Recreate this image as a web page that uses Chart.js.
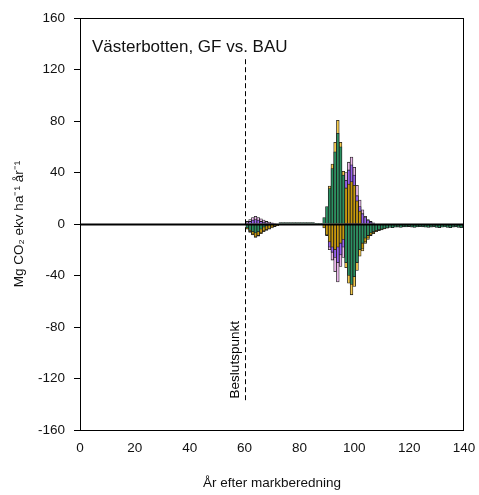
<!DOCTYPE html><html><head>
<meta charset="utf-8">
<title>Västerbotten, GF vs. BAU</title>
<style>
  html, body { margin: 0; padding: 0; background: #fff; }
  #wrap { width: 479px; height: 495px; }
</style>
</head>
<body>
<div id="wrap"><canvas id="chart" width="479" height="495"></canvas></div>
<script src="https://cdn.jsdelivr.net/npm/chart.js"></script>
<script>
    // years after soil preparation, 61..140
    const years = [];
    for (let y = 61; y <= 140; y++) years.push(y);

    // yearly differences, Mg CO2 ekv per ha and year
    const green = [
        -3, -5, -6, -7, -6, -4, -2.5, -1.5, -1, -0.5, -0.3, 0,                 // 61-72
        1.2, 1.2, 1.2, 1.2, 1.2, 1.2, 1.2, 1.2, 1.2, 1.2, 1.2, 1.2, 1.2,        // 73-85
        0.6, 0.6, 0.6,                                                         // 86-88
        5, 13.5, 27.5, 43, 56, 70.5, 60, 38,                                   // 89-96
        -30, -40, -47, -41, -30, -20, -15, -11, -9, -7, -6, -5, -4.5, -4, -3.5, -3, // 97-112
        -2.6, -2.8, -2.5, -2.4, -2.6, -2.2, -2.3, -2.0, -2.4, -2.6, -2.3, -2.1, -2.2, -2.5,  // 113-126
        -2.7, -2.4, -2.2, -2.6, -2.8, -2.5, -2.3, -2.6, -2.9, -2.4, -2.2, -2.6, -2.8, -2.5   // 127-140
    ];
    const darkGold = [
        -4, -6, -8, -10, -9, -7, -5.5, -4.5, -3.5, -2.5, -1.8, -1,
        0, 0, 0, 0, 0, 0, 0, 0, 0, 0, 0, 0, 0,
        0, 0, 0,
        -3, -8.5, -14, -18, -20, -18, -15, -12,
        28, 31, 33, 30, 18, 10, -19, -14, -11, -8.5, -7, -5.5, -5, -4.4, -3.8, -3.3,
        0, 0, 0, 0, 0, 0, 0, 0, 0, 0, 0, 0, 0, 0,
        0, 0, 0, 0, 0, 0, 0, 0, 0, 0, 0, 0, 0, 0
    ];
    const lightGold = [
        0, -6.5, -8.5, -10.5, -9.5, -7.5, -6, -5, -4, -3, -2, -1.3,
        0, 0, 0, 0, 0, 0, 0, 0, 0, 0, 0, 0, 0,
        0, 0, 0,
        0, -9, 29.5, 46.5, 63.5, 80.5, 63.5, 41,
        -34, -46, -55, -48.5, -36, -25, -21, -15, -12, -9, -7.5, -6, -5.2, -4.6, 0, 0,
        0, 0, 0, 0, 0, 0, 0, 0, 0, 0, 0, 0, 0, 0,
        0, 0, 0, 0, 0, 0, 0, 0, 0, 0, 0, 0, 0, 0
    ];
    const purple = [
        1, 2, 3, 3.5, 3, 2, 1.5, 1, 0.5, 0.3, 0, 0,
        0, 0, 0, 0, 0, 0, 0, 0, 0, 0, 0, 0, 0,
        0, 0, 0,
        0, 0, -18, -22, -26, -30, -24, -18,
        34, 42, 46, 38, 22, 13.5, 8, 5, 3, 1.5, 0.5, 0, 0, 0, 0, 0,
        0, 0, 0, 0, 0, 0, 0, 0, 0, 0, 0, 0, 0, 0,
        0, 0, 0, 0, 0, 0, 0, 0, 0, 0, 0, 0, 0, 0
    ];
    const pink = [
        2, 3.5, 5, 6, 5, 4, 3, 2, 1.5, 1, 0.5, 0,
        0, 0, 0, 0, 0, 0, 0, 0, 0, 0, 0, 0, 0,
        0, 0, 0,
        0, 0, -20, -28, -37, -45, -33, -26,
        40, 48, 52, 44, 30, 18.6, 11, 6, 3.5, 2, 1, 0, 0, 0, 0, 0,
        0, 0, 0, 0, 0, 0, 0, 0, 0, 0, 0, 0, 0, 0,
        0, 0, 0, 0, 0, 0, 0, 0, 0, 0, 0, 0, 0, 0
    ];

    const xTicks = [0, 20, 40, 60, 80, 100, 120, 140];
    const yTicks = [-160, -120, -80, -40, 0, 40, 80, 120, 160];
    const decisionYear = 60;
    const decisionSpan = [-137, 128];   // extent of the dashed line, in y units

    const FONT = "'Liberation Sans', Arial, Helvetica, sans-serif";

    function pts(values) {
        return years.map((yr, i) => ({ x: yr, y: values[i] === 0 ? null : values[i] }));
    }

    function barSet(label, values, color) {
        return {
            label: label,
            data: pts(values),
            backgroundColor: color,
            borderColor: '#1c1c1c',
            borderWidth: 0.8,
            grouped: false,
            barPercentage: 1.0,
            categoryPercentage: 1.0
        };
    }

    // zero line, frame, decision line and in-plot title
    const extras = {
        id: 'extras',
        afterDatasetsDraw(chart) {
            const ctx = chart.ctx;
            const a = chart.chartArea;
            const xs = chart.scales.x, ys = chart.scales.y;
            ctx.save();
            // zero line
            const y0 = Math.round(ys.getPixelForValue(0)) + 0.5;
            ctx.strokeStyle = '#000';
            ctx.lineWidth = 2;
            ctx.beginPath();
            ctx.moveTo(a.left, y0);
            ctx.lineTo(a.right, y0);
            ctx.stroke();
            // decision line
            const xd = Math.round(xs.getPixelForValue(decisionYear)) + 0.5;
            ctx.lineWidth = 1;
            ctx.setLineDash([5, 3]);
            ctx.beginPath();
            ctx.moveTo(xd, ys.getPixelForValue(decisionSpan[1]));
            ctx.lineTo(xd, ys.getPixelForValue(decisionSpan[0]));
            ctx.stroke();
            ctx.setLineDash([]);
            // label of the decision line
            ctx.fillStyle = '#000';
            ctx.font = '13.5px ' + FONT;
            ctx.translate(xd - 7, ys.getPixelForValue(decisionSpan[0]) - 2);
            ctx.rotate(-Math.PI / 2);
            ctx.textAlign = 'left';
            ctx.textBaseline = 'alphabetic';
            ctx.fillText('Beslutspunkt', 0, 0);
            ctx.restore();

            ctx.save();
            // frame
            ctx.strokeStyle = '#000';
            ctx.lineWidth = 1;
            ctx.strokeRect(a.left + 0.5, a.top + 0.5, a.right - a.left - 1, a.bottom - a.top);
            // title inside plot
            ctx.fillStyle = '#111';
            ctx.font = '17px ' + FONT;
            ctx.textAlign = 'left';
            ctx.textBaseline = 'alphabetic';
            ctx.fillText('Västerbotten, GF vs. BAU', a.left + 12, a.top + 34);
            ctx.restore();
        }
    };

    const ctx = document.getElementById('chart').getContext('2d');
    const chart = new Chart(ctx, {
        type: 'bar',
        data: {
            datasets: [
                barSet('green', green, '#2b9162'),
                barSet('darkGold', darkGold, '#c89a0c'),
                barSet('lightGold', lightGold, '#f2c84b'),
                barSet('purple', purple, '#9a62f0'),
                barSet('pink', pink, '#ebb8ec')
            ]
        },
        options: {
            responsive: false,
            animation: false,
            layout: { padding: { top: 18, right: 15, left: 0, bottom: 0 } },
            plugins: {
                legend: { display: false },
                tooltip: { enabled: false }
            },
            scales: {
                x: {
                    type: 'linear',
                    min: 0, max: 140,
                    offset: false,
                    afterBuildTicks: s => { s.ticks = xTicks.map(v => ({ value: v })); },
                    afterFit: s => { s.height = 65; s.paddingLeft = 0; s.paddingRight = 0; },
                    grid: { display: false, drawTicks: false },
                    border: { display: false },
                    ticks: { color: '#111', font: { family: FONT, size: 13.5 }, padding: 10, maxRotation: 0 },
                    title: {
                        display: true, text: 'År efter markberedning', color: '#111',
                        font: { family: FONT, size: 13.5 }, padding: { top: 14 }
                    }
                },
                y: {
                    min: -160, max: 160,
                    afterBuildTicks: s => { s.ticks = yTicks.map(v => ({ value: v })); },
                    afterFit: s => { s.width = 80; s.paddingTop = 0; s.paddingBottom = 0; },
                    grid: { drawOnChartArea: false, drawTicks: true, tickLength: 6, color: '#000', lineWidth: 1 },
                    border: { display: false },
                    ticks: { color: '#111', font: { family: FONT, size: 13.5 }, padding: 9 },
                    title: {
                        display: true, text: 'Mg CO₂ ekv ha⁻¹ år⁻¹', color: '#111',
                        font: { family: FONT, size: 13.5 }, padding: { top: 11, bottom: 0 }
                    }
                }
            }
        },
        plugins: [extras]
    });
</script>
</body></html>
